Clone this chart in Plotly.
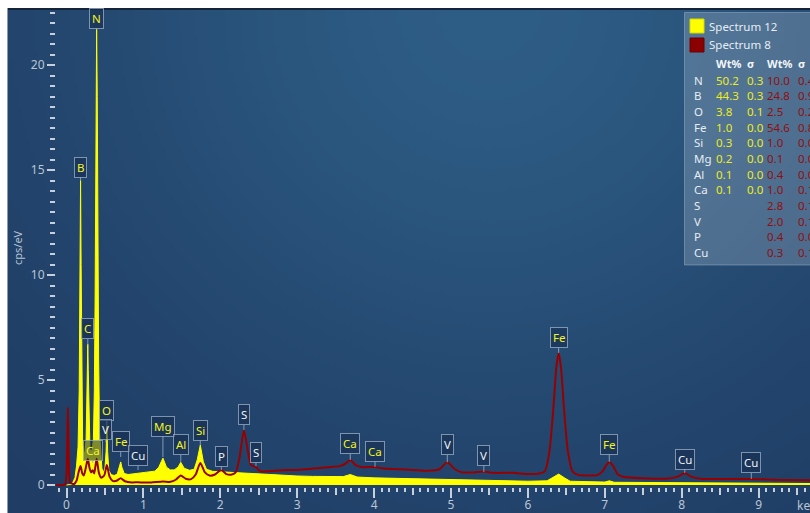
import base64
import math
import struct
import zlib

import plotly.graph_objects as go

# ---------------------------------------------------------------- data ----
# Spectrum 12 (yellow, filled) : energy in keV, intensity in cps/eV
spec12_kev = [0.00, 0.04, 0.08, 0.11, 0.13, 0.15, 0.165, 0.175, 0.183, 0.19,
              0.20, 0.21, 0.225, 0.24, 0.255, 0.265, 0.272, 0.277, 0.283, 0.292,
              0.305, 0.32, 0.335, 0.35, 0.362, 0.372, 0.382, 0.392, 0.400, 0.408,
              0.418, 0.43, 0.445, 0.46, 0.48, 0.50, 0.515, 0.525, 0.535, 0.55,
              0.58, 0.62, 0.66, 0.69, 0.705, 0.72, 0.75, 0.80, 0.85, 0.90,
              0.95, 1.00, 1.05, 1.10, 1.15, 1.20, 1.254, 1.30, 1.35, 1.40,
              1.45, 1.486, 1.53, 1.60, 1.66, 1.70, 1.74, 1.78, 1.82, 1.90,
              2.00, 2.10, 2.20, 2.30, 2.40, 2.50, 2.60, 2.80, 3.00, 3.20,
              3.40, 3.60, 3.69, 3.78, 4.00, 4.50, 5.00, 5.50, 6.00, 6.25,
              6.32, 6.40, 6.48, 6.55, 7.00, 7.06, 7.12, 8.00, 9.00, 9.70]
spec12_cps = [0.00, 0.02, 0.10, 0.35, 0.90, 1.80, 4.50, 10.5, 14.5, 10.5,
              4.00, 2.00, 1.50, 1.60, 2.20, 4.00, 6.00, 6.70, 5.50, 2.80,
              1.70, 1.60, 1.70, 2.20, 4.50, 9.00, 16.0, 21.7, 18.5, 12.0,
              6.00, 2.50, 1.30, 0.80, 0.60, 0.80, 1.60, 2.80, 1.60, 0.70,
              0.50, 0.45, 0.52, 0.85, 1.10, 0.85, 0.55, 0.50, 0.52, 0.55,
              0.58, 0.60, 0.62, 0.63, 0.66, 0.85, 1.28, 0.85, 0.72, 0.72,
              0.85, 1.08, 0.80, 0.70, 0.75, 1.20, 1.90, 1.10, 0.75, 0.65,
              0.63, 0.61, 0.60, 0.58, 0.55, 0.52, 0.50, 0.45, 0.43, 0.41,
              0.40, 0.40, 0.50, 0.38, 0.34, 0.30, 0.26, 0.22, 0.18, 0.20,
              0.35, 0.52, 0.33, 0.18, 0.14, 0.20, 0.13, 0.10, 0.08, 0.07]

# Spectrum 8 (dark red line)
spec8_kev = [-0.14, -0.02, 0.00, 0.01, 0.018, 0.026, 0.035, 0.05, 0.10, 0.13,
             0.16, 0.183, 0.205, 0.225, 0.25, 0.277, 0.30, 0.32, 0.34, 0.36,
             0.392, 0.42, 0.45, 0.49, 0.525, 0.56, 0.60, 0.65, 0.705, 0.76,
             0.85, 0.93, 1.00, 1.10, 1.254, 1.35, 1.42, 1.486, 1.55, 1.62,
             1.68, 1.74, 1.80, 1.86, 1.93, 2.013, 2.08, 2.15, 2.20, 2.25,
             2.307, 2.36, 2.40, 2.464, 2.52, 2.60, 2.80, 3.00, 3.20, 3.40,
             3.55, 3.62, 3.69, 3.76, 3.85, 4.012, 4.10, 4.30, 4.50, 4.70,
             4.85, 4.952, 5.05, 5.15, 5.30, 5.427, 5.55, 5.80, 6.00, 6.15,
             6.22, 6.28, 6.33, 6.37, 6.40, 6.43, 6.47, 6.52, 6.58, 6.65,
             6.75, 6.90, 6.97, 7.01, 7.058, 7.11, 7.17, 7.25, 7.50, 7.80,
             7.95, 8.04, 8.12, 8.25, 8.60, 8.905, 9.20, 9.70]
spec8_cps = [0.00, 0.02, 0.50, 2.00, 3.70, 2.00, 0.50, 0.10, 0.05, 0.20,
             0.65, 0.90, 0.55, 0.45, 0.80, 1.25, 0.80, 0.60, 0.70, 0.55,
             1.25, 0.60, 0.35, 0.45, 0.95, 0.40, 0.20, 0.20, 0.32, 0.18,
             0.12, 0.13, 0.12, 0.12, 0.17, 0.15, 0.25, 0.45, 0.30, 0.28,
             0.50, 1.05, 0.60, 0.45, 0.50, 0.72, 0.52, 0.50, 0.60, 1.30,
             2.60, 1.60, 0.95, 0.85, 0.65, 0.65, 0.70, 0.72, 0.78, 0.85,
             0.90, 1.00, 1.19, 0.95, 0.85, 0.86, 0.80, 0.75, 0.72, 0.68,
             0.75, 1.08, 0.75, 0.60, 0.60, 0.64, 0.58, 0.58, 0.52, 0.55,
             0.65, 1.60, 3.60, 5.60, 6.29, 5.60, 3.60, 1.60, 0.65, 0.48,
             0.45, 0.47, 0.65, 0.90, 1.10, 0.90, 0.50, 0.38, 0.32, 0.30,
             0.40, 0.57, 0.40, 0.30, 0.28, 0.29, 0.25, 0.23]

# Peak labels: element, line energy (keV), intensity at the marker tip
peak_names = ["N", "B", "C", "O", "V", "Ca", "Fe", "Cu", "Mg", "Al", "Si",
              "P", "S", "S", "Ca", "Ca", "V", "V", "Fe", "Fe", "Cu", "Cu"]
peak_kev = [0.392, 0.183, 0.277, 0.525, 0.511, 0.341, 0.705, 0.930, 1.254,
            1.486, 1.740, 2.013, 2.307, 2.464, 3.690, 4.012, 4.952, 5.427,
            6.400, 7.058, 8.040, 8.905]
peak_tip = [21.7, 14.5, 6.7, 2.76, 2.05, 1.05, 1.33, 0.71, 1.33, 1.10, 1.90,
            0.71, 2.62, 0.90, 1.19, 0.86, 1.08, 0.62, 6.29, 1.10, 0.57, 0.29]
peak_in_spec12 = [True, True, True, True, False, True, True, False, True, True,
                  True, False, False, False, True, True, False, False, True,
                  True, False, False]

# Quantification table
table_elements = ["N", "B", "O", "Fe", "Si", "Mg", "Al", "Ca", "S", "V", "P", "Cu"]
wt12 = [50.2, 44.3, 3.8, 1.0, 0.3, 0.2, 0.1, 0.1, None, None, None, None]
sigma12 = [0.3, 0.3, 0.1, 0.0, 0.0, 0.0, 0.0, 0.0, None, None, None, None]
wt8 = [10.0, 24.8, 2.5, 54.6, 1.0, 0.1, 0.4, 1.0, 2.8, 2.0, 0.4, 0.3]
sigma8 = [0.4, 0.9, 0.2, 0.8, 0.0, 0.0, 0.0, 0.1, 0.1, 0.1, 0.0, 0.1]

series_names = ["Spectrum 12", "Spectrum 8"]
x_tick_vals = list(range(0, 10))

# --------------------------------------------------------------- layout ----
FIG_W, FIG_H = 810, 513
L, R, T, B = 56, 810, 10, 487          # plot area in pixels
KEV0_PX, PX_PER_KEV = 66.5, 76.9
ZERO_PX, PX_PER_CPS = 485, 21.0

x_range = [(L - KEV0_PX) / PX_PER_KEV, (R - KEV0_PX) / PX_PER_KEV]
y_range = [(ZERO_PX - B) / PX_PER_CPS, (ZERO_PX - T) / PX_PER_CPS]

YELLOW = "#ffff00"
DARK_RED = "#960000"
TICK_COL = "#c5d0dc"
LABEL_COL = "#b9c6d4"
FONT = "Noto Sans"


def px(x):
    return (x - L) / (R - L)


def py(y):
    return (B - y) / (B - T)


def gradient_png(w, h, dark, light):
    """Small RGB PNG with a soft highlight near the top centre."""
    raw = bytearray()
    for j in range(h):
        raw.append(0)
        v = j / (h - 1)
        for i in range(w):
            u = i / (w - 1)
            t = math.exp(-((u - 0.6) / 0.55) ** 2 - (v / 0.85) ** 2)
            raw += bytes(int(round(d + t * (l - d))) for d, l in zip(dark, light))

    def chunk(tag, data):
        return (struct.pack(">I", len(data)) + tag + data
                + struct.pack(">I", zlib.crc32(tag + data) & 0xFFFFFFFF))

    png = (b"\x89PNG\r\n\x1a\n"
           + chunk(b"IHDR", struct.pack(">IIBBBBB", w, h, 8, 2, 0, 0, 0))
           + chunk(b"IDAT", zlib.compress(bytes(raw), 9))
           + chunk(b"IEND", b""))
    return "data:image/png;base64," + base64.b64encode(png).decode()


fig = go.Figure()

fig.add_trace(go.Scatter(
    x=spec12_kev, y=spec12_cps, name=series_names[0], mode="lines",
    line=dict(color=YELLOW, width=1), fill="tozeroy", fillcolor=YELLOW,
    hoverinfo="skip", showlegend=False))

fig.add_trace(go.Scatter(
    x=spec8_kev, y=spec8_cps, name=series_names[1], mode="lines", xaxis="x2",
    line=dict(color=DARK_RED, width=2, shape="spline", smoothing=0.6),
    hoverinfo="skip", showlegend=False))

# background, frame and results panel
shapes = [
    dict(type="rect", xref="paper", yref="paper", x0=px(7), x1=px(812),
         y0=py(8), y1=py(10), fillcolor="#14253b", line_width=0, layer="above"),
    dict(type="rect", xref="paper", yref="paper", x0=px(7), x1=px(8),
         y0=py(8), y1=py(514), fillcolor="#8d99a6", line_width=0, layer="above"),
    dict(type="rect", xref="paper", yref="paper", x0=px(684.5), x1=px(815),
         y0=py(12.5), y1=py(265), fillcolor="rgba(225,232,240,0.22)",
         line=dict(color="rgba(200,215,230,0.35)", width=1), layer="above"),
    dict(type="rect", xref="paper", yref="paper", x0=px(690), x1=px(704),
         y0=py(19), y1=py(33), fillcolor=YELLOW,
         line=dict(color="#d8d800", width=1), layer="above"),
    dict(type="rect", xref="paper", yref="paper", x0=px(690), x1=px(704),
         y0=py(38), y1=py(52), fillcolor="#8b0000",
         line=dict(color="#700000", width=1), layer="above"),
]

annotations = []

# legend entries
for name, ypix in zip(series_names, [26.5, 45]):
    annotations.append(dict(
        text=name, xref="paper", yref="paper", x=px(707), y=py(ypix),
        xanchor="left", yanchor="middle", showarrow=False,
        font=dict(family=FONT, size=11.5, color="#e6edf4")))

# table header
for label, xpix in [("Wt%", 714), ("σ", 745), ("Wt%", 765), ("σ", 796)]:
    annotations.append(dict(
        text="<b>%s</b>" % label, xref="paper", yref="paper", x=px(xpix),
        y=py(63.5), xanchor="left", yanchor="middle", showarrow=False,
        font=dict(family=FONT, size=11, color="#f2f6fa")))

# table body
TABLE_YELLOW = "#ecec20"
TABLE_RED = "#8e1010"
for k, el in enumerate(table_elements):
    ypix = 80 + k * 15.7
    cells = [(el, 692, "#e6edf4"),
             (wt12[k], 714, TABLE_YELLOW), (sigma12[k], 745, TABLE_YELLOW),
             (wt8[k], 765, TABLE_RED), (sigma8[k], 796, TABLE_RED)]
    for val, xpix, col in cells:
        if val is None:
            continue
        txt = val if isinstance(val, str) else "%.1f" % val
        annotations.append(dict(
            text=txt, xref="paper", yref="paper", x=px(xpix), y=py(ypix),
            xanchor="left", yanchor="middle", showarrow=False,
            font=dict(family=FONT, size=11.5, color=col)))

# peak callouts
callout_offset = [-11, -13.5, -15.5, -17, -12, -12.5, -15.5, -14.5, -31, -17,
                  -15, -14, -15, -13.5, -16.5, -15.5, -17.5, -16.5, -15.5,
                  -17.5, -14, -16]
for name, kev, tip, own, off in zip(peak_names, peak_kev, peak_tip,
                                    peak_in_spec12, callout_offset):
    annotations.append(dict(
        text=name, x=kev, y=tip, xref="x", yref="y", showarrow=True,
        arrowhead=0, arrowwidth=1, arrowcolor="rgba(150,170,192,0.85)",
        ax=0, ay=off, standoff=0,
        bgcolor="rgba(22,44,76,0.55)", bordercolor="rgba(150,170,192,0.8)",
        borderwidth=1, borderpad=2,
        font=dict(family=FONT, size=11.5, color="#f4f41c" if own else "#eef2f6")))

# axis titles
annotations.append(dict(
    text="cps/eV", xref="paper", yref="paper", x=px(17), y=py(248),
    xanchor="center", yanchor="middle", textangle=-90, showarrow=False,
    font=dict(family=FONT, size=11, color=LABEL_COL)))
annotations.append(dict(
    text="keV", xref="paper", yref="paper", x=px(795), y=py(505),
    xanchor="left", yanchor="middle", showarrow=False,
    font=dict(family=FONT, size=12, color=LABEL_COL)))

bg = gradient_png(201, 126, dark=(30, 58, 98), light=(45, 92, 132))

fig.update_layout(
    template="none",
    width=FIG_W, height=FIG_H, autosize=False,
    margin=dict(l=L, r=FIG_W - R, t=T, b=FIG_H - B, pad=0),
    paper_bgcolor="#ffffff", plot_bgcolor="rgba(0,0,0,0)",
    showlegend=False, hovermode=False,
    images=[dict(source=bg, xref="paper", yref="paper", x=px(8), y=py(9),
                 sizex=(810 - 8) / (R - L), sizey=(513 - 9) / (B - T),
                 xanchor="left", yanchor="top", sizing="stretch",
                 layer="below")],
    xaxis=dict(range=x_range, showgrid=False, zeroline=False, showline=False,
               automargin=False, ticks="outside", tickmode="array",
               tickvals=x_tick_vals, ticklen=10, tickwidth=2,
               tickcolor=TICK_COL, ticklabelstandoff=-3,
               tickfont=dict(family=FONT, size=12, color=LABEL_COL),
               minor=dict(dtick=0.1, tick0=0, ticklen=4, tickwidth=2,
                          tickcolor=TICK_COL, ticks="outside",
                          showgrid=False)),
    xaxis2=dict(range=x_range, overlaying="x", anchor="y", side="bottom",
                showgrid=False, zeroline=False, showline=False,
                automargin=False, ticks="outside", tick0=0.5, dtick=1,
                ticklen=7, tickwidth=2, tickcolor=TICK_COL,
                showticklabels=False),
    yaxis=dict(range=y_range, showgrid=False, zeroline=False, showline=False,
               automargin=False, ticks="outside", tick0=0, dtick=5,
               ticklen=8, tickwidth=2, tickcolor=TICK_COL,
               tickfont=dict(family=FONT, size=12, color=LABEL_COL),
               minor=dict(dtick=0.5, tick0=0, ticklen=5, tickwidth=2,
                          tickcolor=TICK_COL, ticks="outside",
                          showgrid=False)),
    shapes=shapes,
    annotations=annotations,
)

fig.write_html("out.html")
